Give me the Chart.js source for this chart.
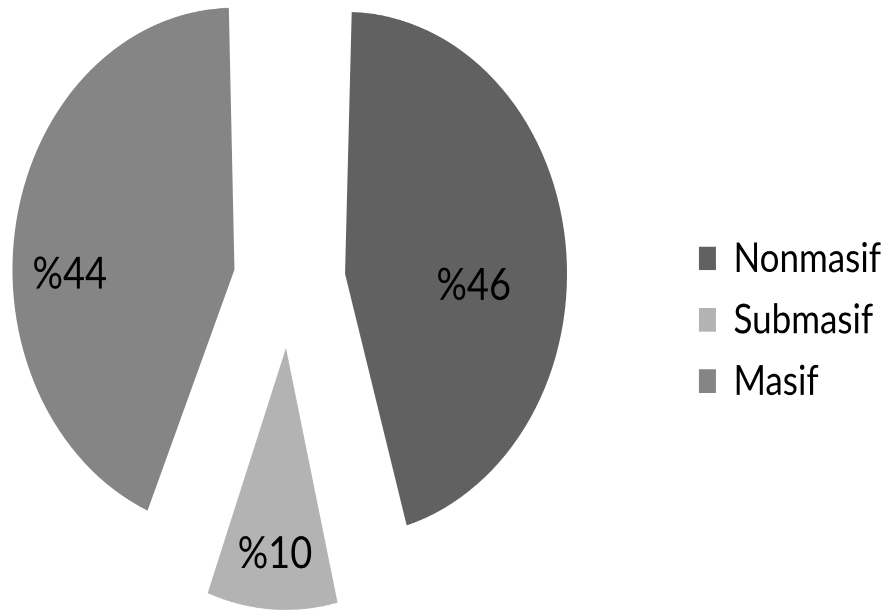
<!DOCTYPE html>
<html>
<head>
<meta charset="utf-8">
<script src="https://cdn.jsdelivr.net/npm/chart.js@4.4.1/dist/chart.umd.min.js"></script>
<style>
  html, body { margin: 0; padding: 0; background: #fff; overflow: hidden; }
  #wrap { position: relative; width: 882px; height: 610px; overflow: hidden; }
  /* the reference is stretched vertically, so the canvas is too */
  #pie { position: absolute; left: -103px; top: 0; transform: scaleY(1.18); transform-origin: 0 0; }
</style>
</head>
<body>
<div id="wrap"><canvas id="pie" width="994" height="517"></canvas></div>
<script>
// Veriler
const categories = ['Nonmasif', 'Submasif', 'Masif'];
const shares = [46, 10, 44];
const valueLabels = ['%46', '%10', '%44'];

// Stil
const sliceColors = ['#616161', '#b3b3b3', '#858585'];
const sliceOffset = 56;   // gerçek kaydırma (Chart.js offset/4 uygular)
const pieRadius = 222;    // çizilen yarıçap
const labelDist = [0.83, 1.04, 0.99]; // merkezden uzaklık / yarıçap
const labelTurn = [8, 0, -9];         // orta açıya eklenen derece

// Chart.js kaydırılan dilimin yarıçapını büyütüyor; hepsini aynı yarıçapa getir
const equalRadius = {
  id: 'equalRadius',
  beforeDatasetsDraw(chart) {
    chart.getDatasetMeta(0).data.forEach(arc => {
      const fix = 1 - Math.sin(Math.min(Math.PI, arc.circumference));
      arc.outerRadius = pieRadius - sliceOffset * fix;
    });
  }
};

// Dilim içi etiketler
const sliceLabels = {
  id: 'sliceLabels',
  afterDatasetsDraw(chart) {
    const ctx = chart.ctx;
    const meta = chart.getDatasetMeta(0);
    ctx.save();
    ctx.font = '38px Lato';
    ctx.fillStyle = '#000';
    ctx.textAlign = 'center';
    ctx.textBaseline = 'middle';
    meta.data.forEach((arc, i) => {
      const p = arc.getProps(['x', 'y', 'startAngle', 'endAngle'], true);
      const a = (p.startAngle + p.endAngle) / 2 + labelTurn[i] * Math.PI / 180;
      const d = pieRadius * labelDist[i];
      ctx.fillText(valueLabels[i], p.x + Math.cos(a) * d, p.y + Math.sin(a) * d);
    });
    ctx.restore();
  }
};

new Chart(document.getElementById('pie'), {
  type: 'pie',
  data: {
    labels: categories,
    datasets: [{
      data: shares,
      backgroundColor: sliceColors,
      borderWidth: 0,
      offset: sliceOffset * 4,
      clip: false
    }]
  },
  options: {
    responsive: false,
    animation: false,
    devicePixelRatio: 2,
    layout: { padding: { top: 0, bottom: 39, left: 0, right: 0 } },
    plugins: {
      tooltip: { enabled: false },
      legend: {
        position: 'right',
        title: { display: true, text: '', padding: 26, font: { size: 10 } },
        labels: {
          boxWidth: 17,
          boxHeight: 20,
          padding: 17,
          color: '#000',
          font: { family: 'Lato', size: 35 }
        }
      }
    }
  },
  plugins: [equalRadius, sliceLabels]
});
</script>
</body>
</html>
